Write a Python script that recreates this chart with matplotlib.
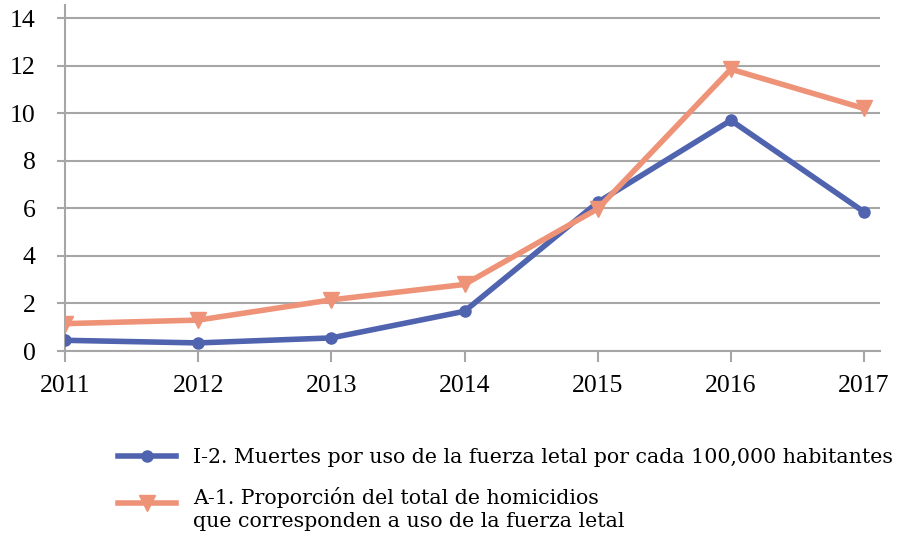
import matplotlib
matplotlib.use("Agg")
import matplotlib.pyplot as plt
from matplotlib.legend_handler import HandlerLine2D

years = [2011, 2012, 2013, 2014, 2015, 2016, 2017]
muertes = [0.45, 0.34, 0.55, 1.67, 6.25, 9.7, 5.85]
proporcion = [1.15, 1.3, 2.15, 2.8, 5.98, 11.85, 10.2]
yticks = [0, 2, 4, 6, 8, 10, 12, 14]
label_blue = "I-2. Muertes por uso de la fuerza letal por cada 100,000 habitantes"
label_orange = "A-1. Proporción del total de homicidios\nque corresponden a uso de la fuerza letal"

blue = "#4F63AF"
orange = "#EE9377"
grid = "#A6A6A6"

plt.rcParams['font.family'] = ['Liberation Serif', 'DejaVu Serif']


class HandlerFirstLine(HandlerLine2D):
    """Line handle aligned with the first line of a two-line label."""
    def __init__(self, shift=0.0, **kw):
        super().__init__(**kw)
        self.shift = shift

    def create_artists(self, legend, orig_handle, xdescent, ydescent, width,
                       height, fontsize, trans):
        return super().create_artists(legend, orig_handle, xdescent,
                                       ydescent - self.shift, width, height,
                                       fontsize, trans)


fig = plt.figure(figsize=(8.98, 5.38), dpi=100)
ax = fig.add_axes([65/898, 1 - 351/538, (880-65)/898, (351-5)/538])

l1, = ax.plot(years, muertes, color=blue, lw=4, marker='o', markersize=8, label=label_blue, zorder=3)
l2, = ax.plot(years, proporcion, color=orange, lw=4, marker='v', markersize=12, label=label_orange, zorder=3)

ax.set_xlim(2011, 2017.12)
ax.set_ylim(0, 14.55)
ax.set_yticks(yticks)
ax.set_xticks(years)
ax.set_xticklabels([str(y) for y in years])
ax.yaxis.grid(True, color=grid, lw=1.5)
ax.set_axisbelow(True)
for s in ['top', 'right']:
    ax.spines[s].set_visible(False)
for s in ['left', 'bottom']:
    ax.spines[s].set_color(grid)
    ax.spines[s].set_linewidth(1.5)
ax.tick_params(axis='y', length=6, width=1.5, color=grid, labelsize=18.5, pad=15)
ax.tick_params(axis='x', length=8, width=1.5, color=grid, labelsize=18.5, pad=9)

leg = fig.legend(handles=[l1, l2], loc='upper left', bbox_to_anchor=(118/898, 1 - 448/538),
                 frameon=False,
                 prop={'family': ['DejaVu Serif'], 'size': 14.8},
                 handlelength=2.8, handletextpad=0.86, labelspacing=0.95,
                 borderpad=0, borderaxespad=0,
                 handler_map={l2: HandlerFirstLine(shift=8.5)})
for t in leg.get_texts():
    t.set_linespacing(1.3)

fig.savefig("out.png", dpi=100)
